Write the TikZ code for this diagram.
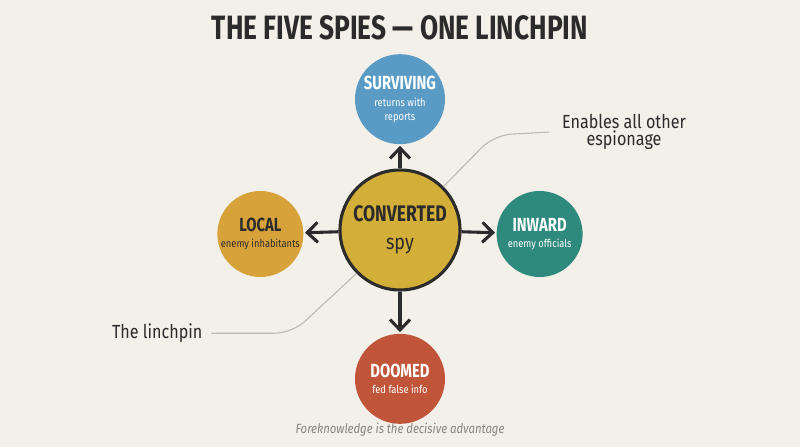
\documentclass[tikz,border=0pt]{standalone}
\usepackage{fontspec}
\setmainfont{Fira Sans}
\newfontfamily\headfont[FakeStretch=0.78]{Fira Sans}
\newfontfamily\labfont[FakeStretch=0.85]{Fira Sans}
\newcommand\spytitle{\headfont\bfseries\fontsize{13.5}{14}\selectfont}
\newcommand\spysub{\labfont\fontsize{7.8}{9}\selectfont}
\usetikzlibrary{arrows.meta, positioning}
\definecolor{paper}{HTML}{F2F0E9}
\definecolor{ink}{HTML}{2B2B2B}
\definecolor{sky}{HTML}{5A9BC6}
\definecolor{mustard}{HTML}{D8A23A}
\definecolor{gold}{HTML}{D3AE38}
\definecolor{teal}{HTML}{2E8A7C}
\definecolor{rust}{HTML}{C0553A}
\definecolor{wire}{HTML}{BDBCB4}
\definecolor{muted}{HTML}{85847F}

\begin{document}
\begin{tikzpicture}[
      spy/.style={circle, inner sep=0pt, text=white, align=center, minimum size=2.2cm},
      link/.style={-{Straight Barb[length=2.6mm, width=5mm, line width=2.2pt]}, line width=2.2pt, draw=ink, shorten >=1pt},
      note/.style={font=\labfont\fontsize{13.5}{15}\selectfont, text=ink, align=center},
      callout/.style={draw=wire, line width=0.8pt, rounded corners=12pt}
    ]
    \fill[paper] (0,0) rectangle (20,-11.175);
    \useasboundingbox (0,0) rectangle (20,-11.175);
    \node[font=\headfont\bfseries\fontsize{24}{26}\selectfont, text=ink] (title) at (10,-0.7) {THE FIVE SPIES — ONE LINCHPIN};
    \node[circle, fill=gold, draw=ink, line width=2.2pt, minimum size=3cm, align=center, text=ink,
      font=\fontsize{16}{19}\selectfont] (conv) at (10,-5.75)
      {{\headfont\bfseries CONVERTED}\\[1pt]{\labfont\fontsize{15}{15}\selectfont spy}};
    \node[spy, fill=sky, minimum size=2.25cm, above=6mm of conv] (surv)
      {{\spytitle SURVIVING}\\[0pt]{\spysub returns with}\\[-2pt]{\spysub reports}};
    \node[spy, fill=mustard, minimum size=2.15cm, left=8.7mm of conv, yshift=-1mm, text=ink] (local)
      {{\spytitle LOCAL}\\[-1pt]{\spysub enemy inhabitants}};
    \node[spy, fill=teal, minimum size=2.15cm, right=8.7mm of conv, yshift=-1mm] (inward)
      {{\spytitle INWARD}\\[-1pt]{\spysub enemy officials}};
    \node[spy, fill=rust, minimum size=2.25cm, below=1.05cm of conv] (doomed)
      {{\spytitle DOOMED}\\[-1pt]{\spysub fed false info}};
    \draw[link] (conv) -- (surv);
    \draw[link] (conv) -- (local);
    \draw[link] (conv) -- (inward);
    \draw[link] (conv) -- (doomed);
    % callouts
    \node[note] (enables) at (15.6,-3.3) {Enables all other\\[-3pt]espionage};
    \node[note] (linchpin) at (3.93,-8.33) {The linchpin};
    \coordinate (upbend) at (12.35,-3.38);
    \coordinate (lowbend) at (7.3,-8.33);
    \draw[callout] (conv.45) -- (upbend) -- ([xshift=-2mm]enables.west);
    \draw[callout] (conv.225) -- (lowbend) -- ([xshift=1mm]linchpin.east);
    \node[font=\labfont\itshape\fontsize{9.5}{11}\selectfont, text=muted] (foot) at (10,-10.75) {Foreknowledge is the decisive advantage};
  \end{tikzpicture}
\end{document}
